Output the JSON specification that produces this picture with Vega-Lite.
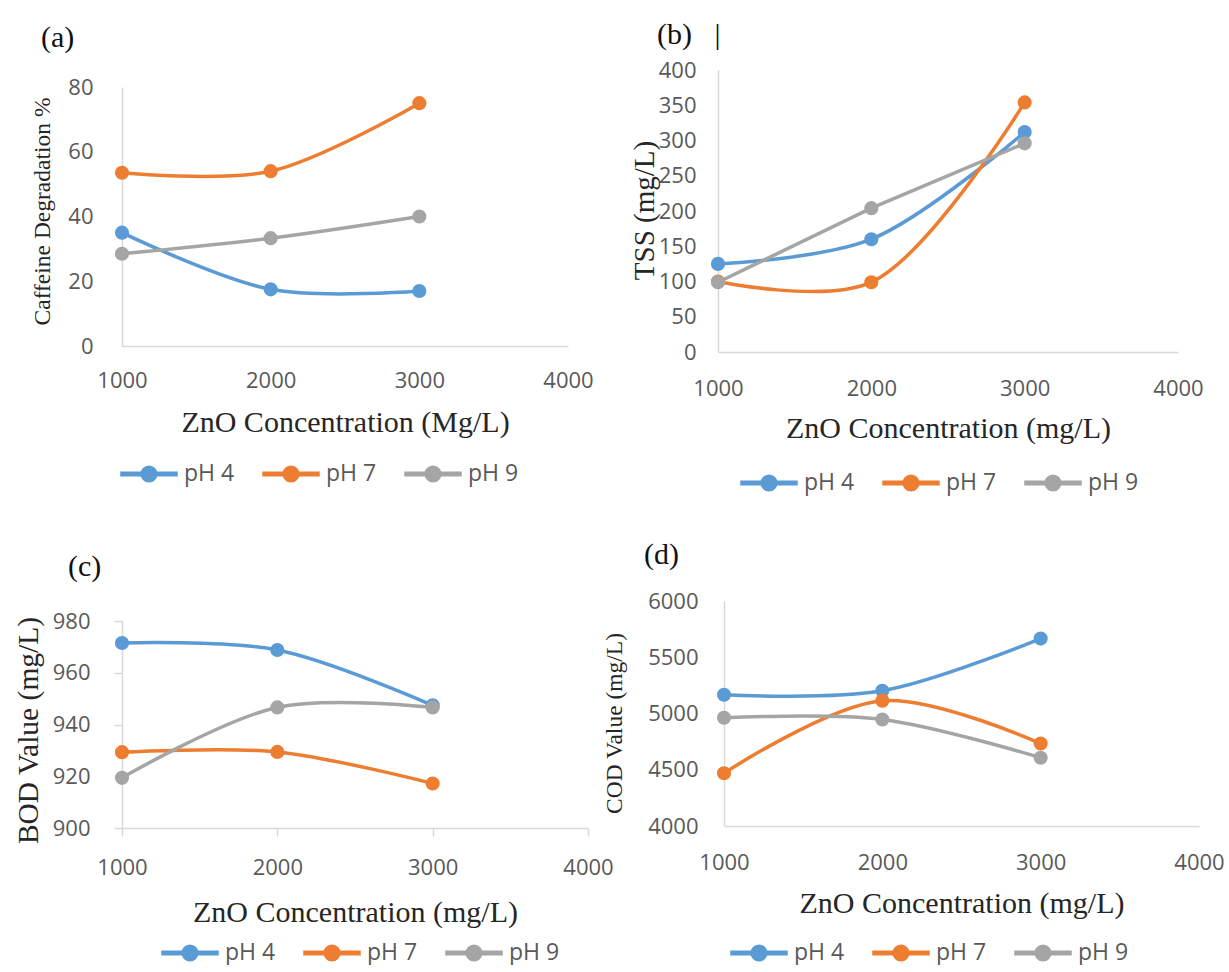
{
  "$schema": "https://vega.github.io/schema/vega-lite/v6.json",
  "background": "white",
  "padding": {"left": 12, "top": 20, "right": 0, "bottom": 0},
  "data": {"values": [
    {"panel": "a", "ph": "pH 4", "conc": 1000, "value": 35},
    {"panel": "a", "ph": "pH 4", "conc": 2000, "value": 17.5},
    {"panel": "a", "ph": "pH 4", "conc": 3000, "value": 17},
    {"panel": "a", "ph": "pH 7", "conc": 1000, "value": 53.5},
    {"panel": "a", "ph": "pH 7", "conc": 2000, "value": 54},
    {"panel": "a", "ph": "pH 7", "conc": 3000, "value": 75},
    {"panel": "a", "ph": "pH 9", "conc": 1000, "value": 28.5},
    {"panel": "a", "ph": "pH 9", "conc": 2000, "value": 33.3},
    {"panel": "a", "ph": "pH 9", "conc": 3000, "value": 40},
    {"panel": "b", "ph": "pH 4", "conc": 1000, "value": 125},
    {"panel": "b", "ph": "pH 4", "conc": 2000, "value": 160},
    {"panel": "b", "ph": "pH 4", "conc": 3000, "value": 312},
    {"panel": "b", "ph": "pH 7", "conc": 1000, "value": 100},
    {"panel": "b", "ph": "pH 7", "conc": 2000, "value": 99},
    {"panel": "b", "ph": "pH 7", "conc": 3000, "value": 354},
    {"panel": "b", "ph": "pH 9", "conc": 1000, "value": 99},
    {"panel": "b", "ph": "pH 9", "conc": 2000, "value": 204},
    {"panel": "b", "ph": "pH 9", "conc": 3000, "value": 296},
    {"panel": "c", "ph": "pH 4", "conc": 1000, "value": 971.5},
    {"panel": "c", "ph": "pH 4", "conc": 2000, "value": 968.8},
    {"panel": "c", "ph": "pH 4", "conc": 3000, "value": 947.4},
    {"panel": "c", "ph": "pH 7", "conc": 1000, "value": 929.3},
    {"panel": "c", "ph": "pH 7", "conc": 2000, "value": 929.4},
    {"panel": "c", "ph": "pH 7", "conc": 3000, "value": 917.2},
    {"panel": "c", "ph": "pH 9", "conc": 1000, "value": 919.4},
    {"panel": "c", "ph": "pH 9", "conc": 2000, "value": 946.6},
    {"panel": "c", "ph": "pH 9", "conc": 3000, "value": 946.6},
    {"panel": "d", "ph": "pH 4", "conc": 1000, "value": 5167},
    {"panel": "d", "ph": "pH 4", "conc": 2000, "value": 5202},
    {"panel": "d", "ph": "pH 4", "conc": 3000, "value": 5666},
    {"panel": "d", "ph": "pH 7", "conc": 1000, "value": 4469},
    {"panel": "d", "ph": "pH 7", "conc": 2000, "value": 5114},
    {"panel": "d", "ph": "pH 7", "conc": 3000, "value": 4733},
    {"panel": "d", "ph": "pH 9", "conc": 1000, "value": 4962},
    {"panel": "d", "ph": "pH 9", "conc": 2000, "value": 4947},
    {"panel": "d", "ph": "pH 9", "conc": 3000, "value": 4607}
  ]},
  "bounds": "flush",
  "spacing": 531,
  "resolve": {"scale": {"color": "independent"}, "legend": {"color": "independent"}},
  "vconcat": [
    {
      "bounds": "flush",
      "spacing": 150,
      "resolve": {"scale": {"color": "independent"}, "legend": {"color": "independent"}},
      "hconcat": [
        {
          "width": 446, "height": 276,
          "title": {"text": "(a)", "dx": -81, "offset": 17},
          "transform": [{"filter": "datum.panel === 'a'"}],
          "encoding": {
            "x": {"field": "conc", "type": "quantitative", "scale": {"domain": [1000, 4000], "nice": false, "zero": false},
                  "axis": {"values": [1000, 2000, 3000, 4000], "format": "d", "labelPadding": 34, "labelBaseline": "middle", "title": "ZnO Concentration (Mg/L)", "titleFontSize": 30, "titleY": 76, "titleBaseline": "middle"}},
            "y": {"field": "value", "type": "quantitative", "scale": {"domain": [0, 80], "nice": false, "zero": false, "range": [276, 17]},
                  "axis": {"values": [0, 20, 40, 60, 80], "format": "d", "labelPadding": 29, "title": "Caffeine Degradation %", "titleFontSize": 23.5, "titleX": -80, "titleY": 141, "titleBaseline": "middle", "titleAlign": "center", "titleAngle": -90}},
            "color": {"field": "ph", "type": "nominal",
                      "scale": {"domain": ["pH 4", "pH 7", "pH 9"], "range": ["#5B9BD5", "#ED7D31", "#A5A5A5"]},
                      "legend": {"orient": "none", "legendX": 12, "legendY": 389, "direction": "horizontal", "title": null,
                                 "symbolType": "M-2,-0.125H2V0.125H-2Z M0.56,0A0.56,0.56,0,1,1,-0.56,0A0.56,0.56,0,1,1,0.56,0Z",
                                 "symbolSize": 784, "labelOffset": 20, "columnPadding": 25,
                                 "encode": {"symbols": {"update": {"fill": {"signal": "datum.value === 'pH 4' ? '#5B9BD5' : datum.value === 'pH 7' ? '#ED7D31' : '#A5A5A5'"}, "stroke": {"value": "transparent"}, "opacity": {"value": 1}}}}}}
          },
          "layer": [
            {"mark": {"type": "line", "interpolate": "catmull-rom", "strokeWidth": 3.5}},
            {"mark": {"type": "point", "filled": true, "size": 200, "opacity": 1, "strokeWidth": 0}}
          ]
        },
        {
          "width": 460, "height": 282,
          "title": {"text": "(b)\u00a0\u00a0\u00a0|", "dx": -61, "offset": 9},
          "transform": [{"filter": "datum.panel === 'b'"}],
          "encoding": {
            "x": {"field": "conc", "type": "quantitative", "scale": {"domain": [1000, 4000], "nice": false, "zero": false},
                  "axis": {"values": [1000, 2000, 3000, 4000], "format": "d", "labelPadding": 36, "labelBaseline": "middle", "title": "ZnO Concentration (mg/L)", "titleFontSize": 30, "titleY": 76, "titleBaseline": "middle"}},
            "y": {"field": "value", "type": "quantitative", "scale": {"domain": [0, 400], "nice": false, "zero": false},
                  "axis": {"values": [0, 50, 100, 150, 200, 250, 300, 350, 400], "format": "d", "labelPadding": 22, "title": "TSS (mg/L)", "titleFontSize": 29, "titleX": -74, "titleY": 140, "titleBaseline": "middle", "titleAlign": "center", "titleAngle": -90}},
            "color": {"field": "ph", "type": "nominal",
                      "scale": {"domain": ["pH 4", "pH 7", "pH 9"], "range": ["#5B9BD5", "#ED7D31", "#A5A5A5"]},
                      "legend": {"orient": "none", "legendX": 36, "legendY": 398, "direction": "horizontal", "title": null,
                                 "symbolType": "M-2,-0.125H2V0.125H-2Z M0.56,0A0.56,0.56,0,1,1,-0.56,0A0.56,0.56,0,1,1,0.56,0Z",
                                 "symbolSize": 784, "labelOffset": 20, "columnPadding": 25,
                                 "encode": {"symbols": {"update": {"fill": {"signal": "datum.value === 'pH 4' ? '#5B9BD5' : datum.value === 'pH 7' ? '#ED7D31' : '#A5A5A5'"}, "stroke": {"value": "transparent"}, "opacity": {"value": 1}}}}}}
          },
          "layer": [
            {"transform": [{"filter": "datum.ph !== 'pH 9'"}], "mark": {"type": "line", "interpolate": "catmull-rom", "strokeWidth": 3.5}},
            {"transform": [{"filter": "datum.ph === 'pH 9'"}], "mark": {"type": "line", "interpolate": "linear", "strokeWidth": 3.5}},
            {"mark": {"type": "point", "filled": true, "size": 200, "opacity": 1, "strokeWidth": 0}}
          ]
        }
      ]
    },
    {
      "bounds": "flush",
      "spacing": 136,
      "resolve": {"scale": {"color": "independent"}, "legend": {"color": "independent"}},
      "hconcat": [
        {
          "width": 466, "height": 227,
          "title": {"text": "(c)", "dx": -54, "offset": 19},
          "transform": [{"filter": "datum.panel === 'c'"}],
          "encoding": {
            "x": {"field": "conc", "type": "quantitative", "scale": {"domain": [1000, 4000], "nice": false, "zero": false},
                  "axis": {"values": [1000, 2000, 3000, 4000], "format": "d", "ticks": true, "tickSize": 8, "labelPadding": 31, "labelBaseline": "middle", "title": "ZnO Concentration (mg/L)", "titleFontSize": 30, "titleY": 84, "titleBaseline": "middle"}},
            "y": {"field": "value", "type": "quantitative", "scale": {"domain": [900, 980], "nice": false, "zero": false, "range": [227, 20]},
                  "axis": {"values": [900, 920, 940, 960, 980], "format": "d", "ticks": true, "tickSize": 8, "labelPadding": 24, "title": "BOD Value (mg/L)", "titleFontSize": 29.5, "titleX": -94, "titleY": 129, "titleBaseline": "middle", "titleAlign": "center", "titleAngle": -90}},
            "color": {"field": "ph", "type": "nominal",
                      "scale": {"domain": ["pH 4", "pH 7", "pH 9"], "range": ["#5B9BD5", "#ED7D31", "#A5A5A5"]},
                      "legend": {"orient": "none", "legendX": 53, "legendY": 337, "direction": "horizontal", "title": null,
                                 "symbolType": "M-2,-0.125H2V0.125H-2Z M0.56,0A0.56,0.56,0,1,1,-0.56,0A0.56,0.56,0,1,1,0.56,0Z",
                                 "symbolSize": 784, "labelOffset": 20, "columnPadding": 25,
                                 "encode": {"symbols": {"update": {"fill": {"signal": "datum.value === 'pH 4' ? '#5B9BD5' : datum.value === 'pH 7' ? '#ED7D31' : '#A5A5A5'"}, "stroke": {"value": "transparent"}, "opacity": {"value": 1}}}}}}
          },
          "layer": [
            {"mark": {"type": "line", "interpolate": "catmull-rom", "strokeWidth": 3.5}},
            {"mark": {"type": "point", "filled": true, "size": 200, "opacity": 1, "strokeWidth": 0}}
          ]
        },
        {
          "width": 475, "height": 225,
          "title": {"text": "(d)", "dx": -80, "offset": 20},
          "transform": [{"filter": "datum.panel === 'd'"}],
          "encoding": {
            "x": {"field": "conc", "type": "quantitative", "scale": {"domain": [1000, 4000], "nice": false, "zero": false},
                  "axis": {"values": [1000, 2000, 3000, 4000], "format": "d", "labelPadding": 36, "labelBaseline": "middle", "title": "ZnO Concentration (mg/L)", "titleFontSize": 30, "titleY": 77, "titleBaseline": "middle"}},
            "y": {"field": "value", "type": "quantitative", "scale": {"domain": [4000, 6000], "nice": false, "zero": false},
                  "axis": {"values": [4000, 4500, 5000, 5500, 6000], "format": "d", "labelPadding": 26, "title": "COD Value (mg/L)", "titleFontSize": 23.5, "titleX": -110, "titleY": 122, "titleBaseline": "middle", "titleAlign": "center", "titleAngle": -90}},
            "color": {"field": "ph", "type": "nominal",
                      "scale": {"domain": ["pH 4", "pH 7", "pH 9"], "range": ["#5B9BD5", "#ED7D31", "#A5A5A5"]},
                      "legend": {"orient": "none", "legendX": 20, "legendY": 337, "direction": "horizontal", "title": null,
                                 "symbolType": "M-2,-0.125H2V0.125H-2Z M0.56,0A0.56,0.56,0,1,1,-0.56,0A0.56,0.56,0,1,1,0.56,0Z",
                                 "symbolSize": 784, "labelOffset": 20, "columnPadding": 25,
                                 "encode": {"symbols": {"update": {"fill": {"signal": "datum.value === 'pH 4' ? '#5B9BD5' : datum.value === 'pH 7' ? '#ED7D31' : '#A5A5A5'"}, "stroke": {"value": "transparent"}, "opacity": {"value": 1}}}}}}
          },
          "layer": [
            {"mark": {"type": "line", "interpolate": "catmull-rom", "strokeWidth": 3.5}},
            {"mark": {"type": "point", "filled": true, "size": 200, "opacity": 1, "strokeWidth": 0}}
          ]
        }
      ]
    }
  ],
  "config": {
    "view": {"stroke": null},
    "axis": {"domainColor": "#D9D9D9", "domainWidth": 1.5, "grid": false, "ticks": false, "tickColor": "#D9D9D9", "tickWidth": 1.5,
             "labelFont": "Open Sans", "labelFontSize": 22, "labelColor": "#595959", "labelFlush": false, "labelOverlap": false,
             "titleFont": "Liberation Serif", "titleFontWeight": "normal", "titleColor": "#262626"},
    "title": {"font": "Liberation Serif", "fontSize": 30, "fontWeight": "normal", "color": "#111111", "anchor": "start", "frame": "group", "baseline": "bottom"},
    "legend": {"labelFont": "Open Sans", "labelFontSize": 23, "labelColor": "#595959"}
  }
}
